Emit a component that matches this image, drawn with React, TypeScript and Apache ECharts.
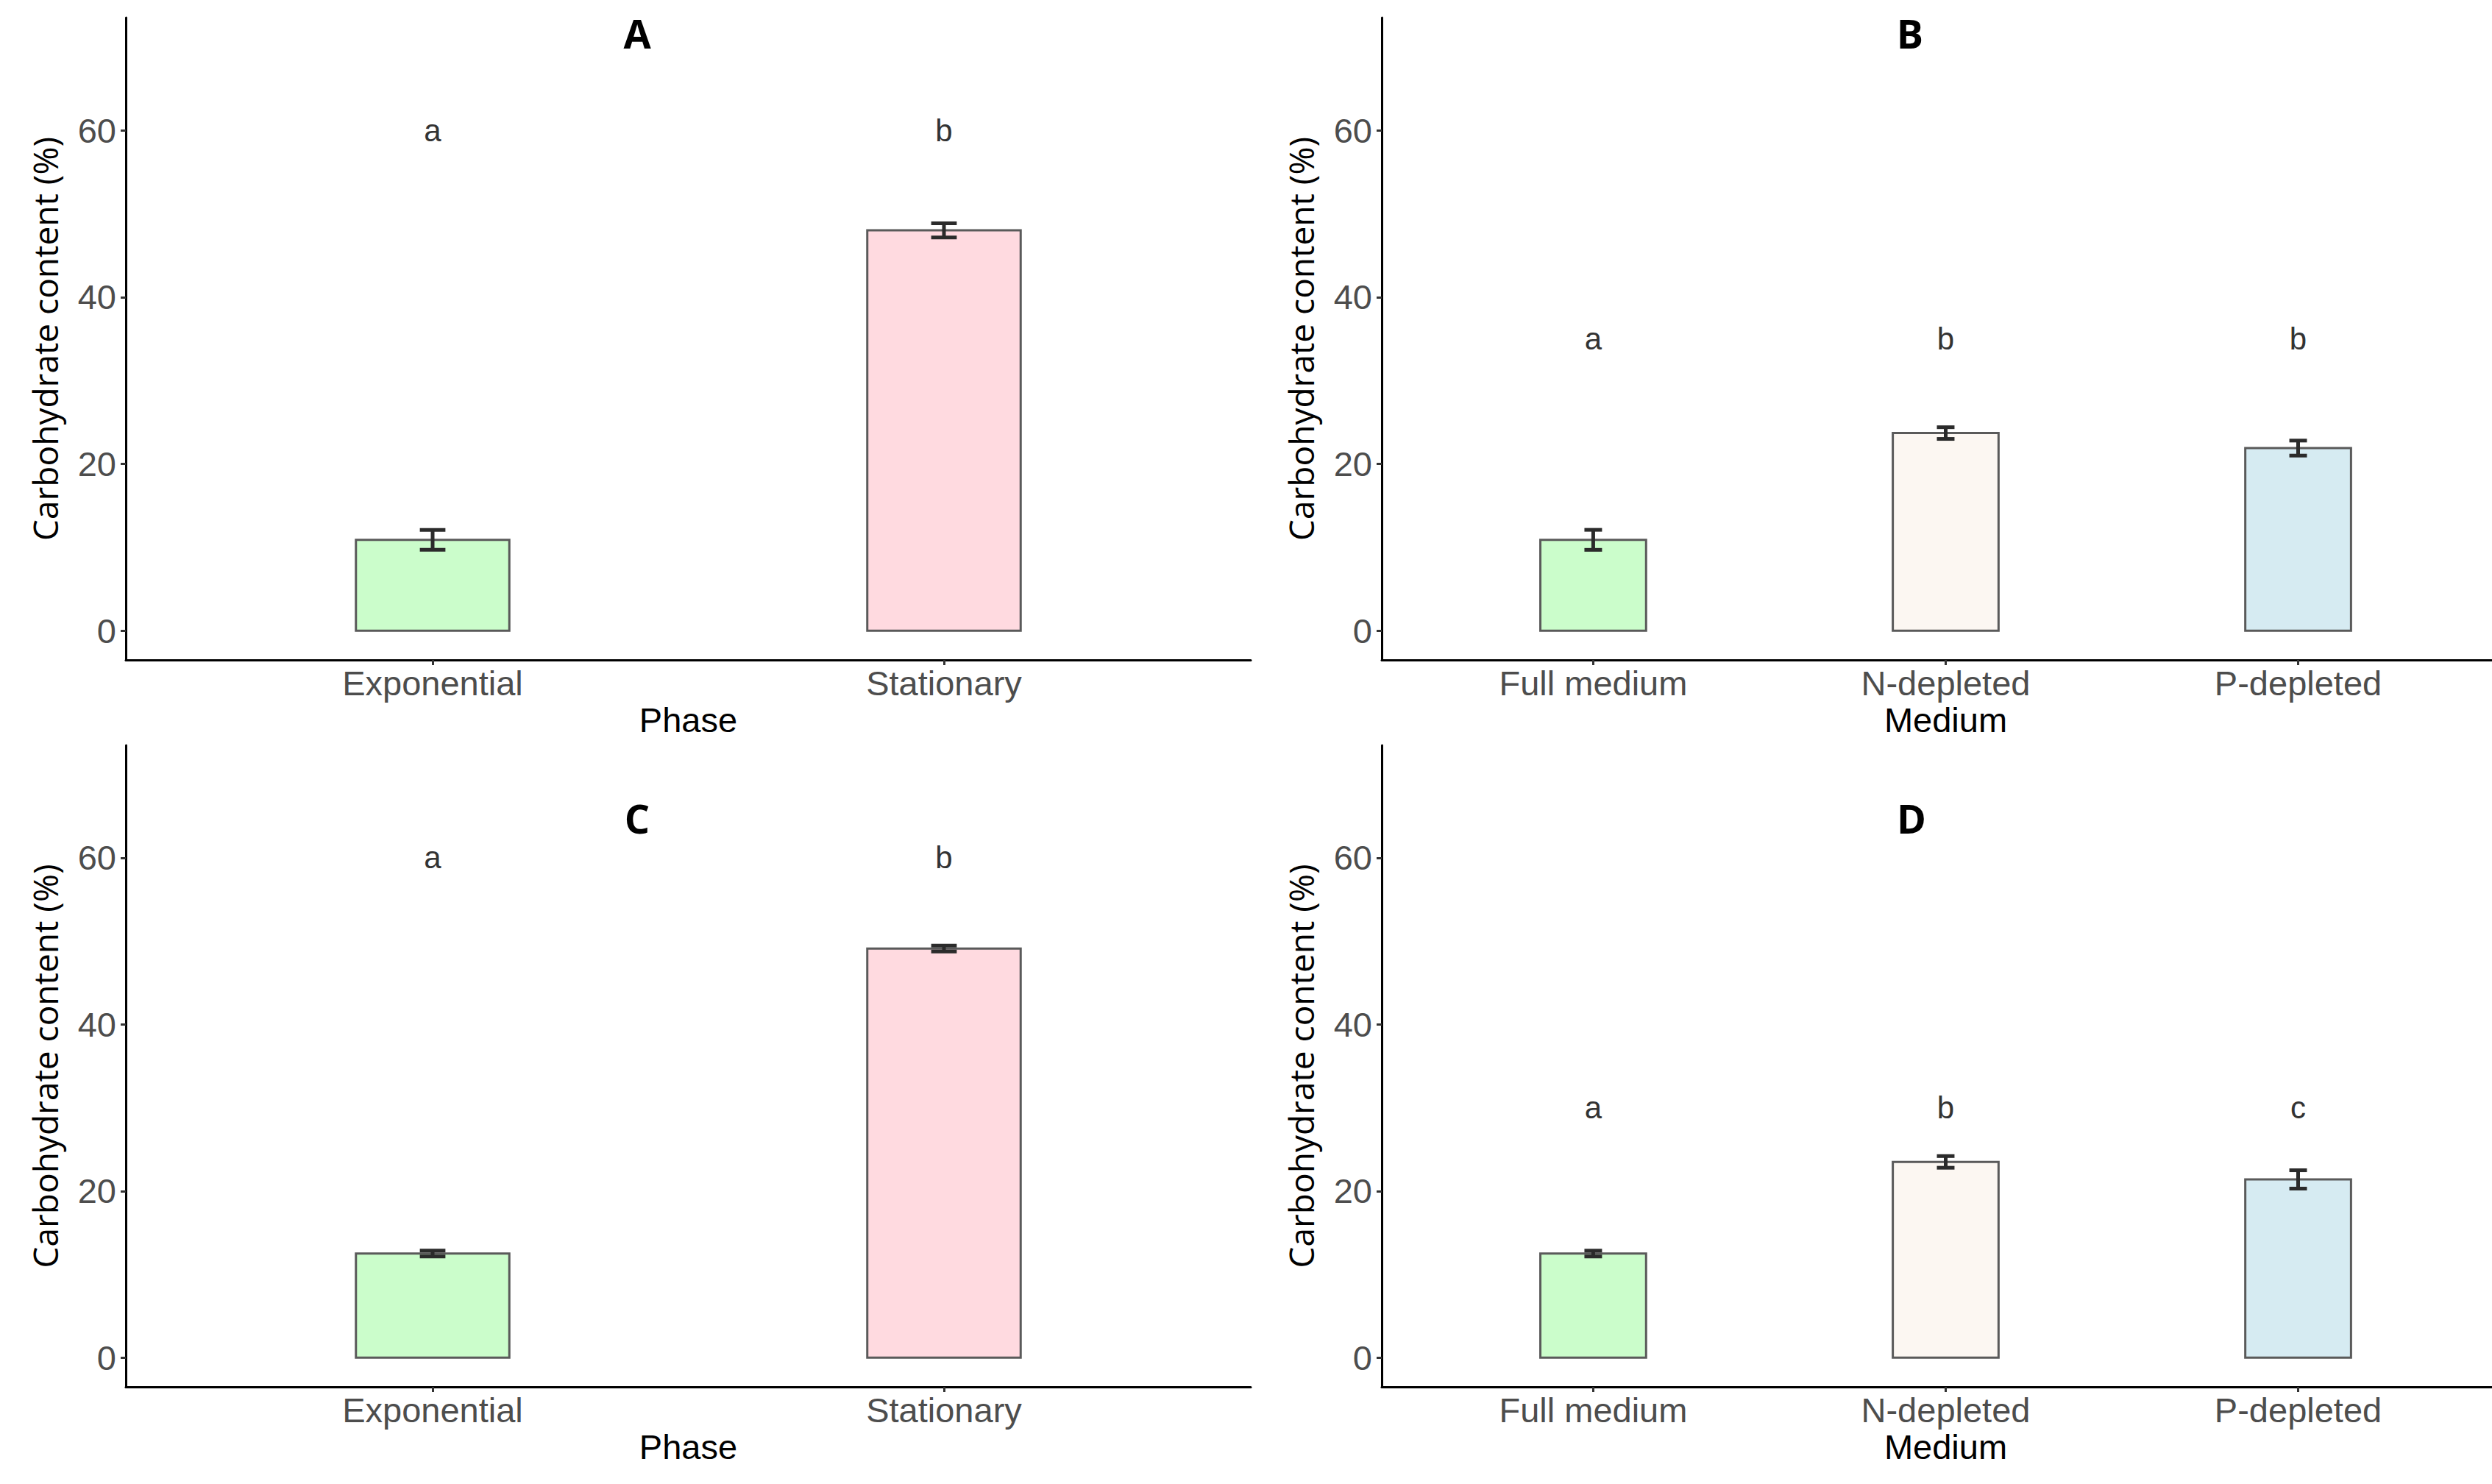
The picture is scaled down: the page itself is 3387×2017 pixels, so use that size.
import React, { useEffect, useRef } from "react";
import * as echarts from "echarts";

// ---- data ----
const phaseCats = ["Exponential", "Stationary"];
const mediumCats = ["Full medium", "N-depleted", "P-depleted"];

const aMeans = [10.9, 48.0];
const aErrs = [1.2, 0.85];
const aLetters = ["a", "b"];
const aLetterY = 60;

const bMeans = [10.9, 23.7, 21.9];
const bErrs = [1.2, 0.7, 0.9];
const bLetters = ["a", "b", "b"];
const bLetterY = 35;

const cMeans = [12.5, 49.1];
const cErrs = [0.35, 0.35];
const cLetters = ["a", "b"];
const cLetterY = 60;

const dMeans = [12.5, 23.5, 21.4];
const dErrs = [0.35, 0.7, 1.1];
const dLetters = ["a", "b", "c"];
const dLetterY = 30;

const yTicks = [0, 20, 40, 60];
const panelTitles = ["A", "B", "C", "D"];

// ---- styles ----
const phaseColors = ["rgba(152,251,152,0.5)", "rgba(255,182,193,0.5)"];
const mediumColors = ["rgba(152,251,152,0.5)", "rgba(250,240,230,0.5)", "rgba(173,216,230,0.5)"];

const TICK_FONT = '"Liberation Sans", Arial, sans-serif';
const YTITLE_FONT = '"Open Sans", "Noto Sans", sans-serif';

export default function App() {
  const ref = useRef<HTMLDivElement>(null);

  useEffect(() => {
    if (!ref.current) return;
    const chart = echarts.init(ref.current, undefined, { renderer: "svg" });

    const panels = [
      { cats: phaseCats, means: aMeans, errs: aErrs, letters: aLetters, ly: aLetterY, colors: phaseColors, xname: "Phase", xmax: 2.6, namePad: 0 },
      { cats: mediumCats, means: bMeans, errs: bErrs, letters: bLetters, ly: bLetterY, colors: mediumColors, xname: "Medium", xmax: 3.55, namePad: 24 },
      { cats: phaseCats, means: cMeans, errs: cErrs, letters: cLetters, ly: cLetterY, colors: phaseColors, xname: "Phase", xmax: 2.6, namePad: 0 },
      { cats: mediumCats, means: dMeans, errs: dErrs, letters: dLetters, ly: dLetterY, colors: mediumColors, xname: "Medium", xmax: 3.55, namePad: 24 },
    ];

    const grids = [
      { left: 171, top: 24, width: 1529, height: 873 },
      { left: 1878, top: 24, width: 1509, height: 873 },
      { left: 171, top: 1013, width: 1529, height: 872 },
      { left: 1878, top: 1013, width: 1509, height: 872 },
    ];

    const titlePos = [
      [866, 45],
      [2596, 45],
      [866, 1112],
      [2598, 1112],
    ];

    const xAxes = panels.map((p, i) => ({
      type: "value",
      gridIndex: i,
      min: 0.4,
      max: p.xmax,
      name: p.xname,
      nameLocation: "middle",
      nameGap: 58,
      nameTextStyle: { fontFamily: TICK_FONT, fontSize: 47, color: "#000", padding: [0, 0, 0, p.namePad] },
      axisLine: { show: true, onZero: false, lineStyle: { color: "#000", width: 3 } },
      axisTick: {
        show: true,
        length: 7,
        lineStyle: { color: "#333", width: 3 },
        customValues: p.cats.map((_, k) => k + 1),
      },
      axisLabel: {
        show: true,
        margin: 8,
        fontFamily: TICK_FONT,
        fontSize: 47,
        color: "#4d4d4d",
        customValues: p.cats.map((_, k) => k + 1),
        formatter: (v: number) => p.cats[Math.round(v) - 1] ?? "",
      },
      splitLine: { show: false },
    }));

    const yAxes = panels.map((p, i) => ({
      type: "value",
      gridIndex: i,
      min: -3.5,
      max: 73.5,
      name: "Carbohydrate content (%)",
      nameLocation: "middle",
      nameGap: 87,
      nameTextStyle: { fontFamily: YTITLE_FONT, fontSize: 46, color: "#000" },
      axisLine: { show: true, onZero: false, lineStyle: { color: "#000", width: 3 } },
      axisTick: {
        show: true,
        length: 7,
        lineStyle: { color: "#333", width: 3 },
        customValues: yTicks,
      },
      axisLabel: {
        show: true,
        margin: 13,
        fontFamily: TICK_FONT,
        fontSize: 47,
        color: "#4d4d4d",
        customValues: yTicks,
      },
      splitLine: { show: false },
    }));

    const series = panels.map((p, i) => ({
      type: "custom",
      xAxisIndex: i,
      yAxisIndex: i,
      clip: false,
      encode: { x: 0, y: 1 },
      data: p.means.map((m, k) => [k + 1, m, p.errs[k]]),
      renderItem: (params: any, api: any) => {
        const idx = params.dataIndex;
        const x = api.value(0);
        const v = api.value(1);
        const e = api.value(2);
        const tl = api.coord([x - 0.15, v]);
        const br = api.coord([x + 0.15, 0]);
        const top = api.coord([x, v + e]);
        const bot = api.coord([x, v - e]);
        const capL = api.coord([x - 0.025, v])[0];
        const capR = api.coord([x + 0.025, v])[0];
        const lp = api.coord([x, p.ly]);
        return {
          type: "group",
          children: [
            {
              type: "rect",
              shape: { x: tl[0], y: tl[1], width: br[0] - tl[0], height: br[1] - tl[1] },
              style: { fill: p.colors[idx], stroke: "#5a5a5a", lineWidth: 3 },
            },
            {
              type: "line",
              shape: { x1: top[0], y1: top[1], x2: bot[0], y2: bot[1] },
              style: { stroke: "#2b2b2b", lineWidth: 5 },
            },
            {
              type: "line",
              shape: { x1: capL, y1: top[1], x2: capR, y2: top[1] },
              style: { stroke: "#2b2b2b", lineWidth: 5 },
            },
            {
              type: "line",
              shape: { x1: capL, y1: bot[1], x2: capR, y2: bot[1] },
              style: { stroke: "#2b2b2b", lineWidth: 5 },
            },
            {
              type: "text",
              x: lp[0],
              y: lp[1],
              style: {
                text: p.letters[idx],
                fill: "#333",
                fontFamily: TICK_FONT,
                fontSize: 42,
                align: "center",
                verticalAlign: "middle",
              },
            },
          ],
        };
      },
    }));

    const graphic = panelTitles.map((t, i) => ({
      type: "text",
      x: titlePos[i][0],
      y: titlePos[i][1],
      style: {
        text: t,
        fill: "#000",
        fontFamily: YTITLE_FONT,
        fontWeight: "bold",
        fontSize: 54,
        align: "center",
        verticalAlign: "middle",
      },
    }));

    chart.setOption({
      animation: false,
      backgroundColor: "#fff",
      grid: grids,
      xAxis: xAxes,
      yAxis: yAxes,
      series,
      graphic,
    } as any);

    return () => chart.dispose();
  }, []);

  return (
    <div
      ref={ref}
      style={{ position: "absolute", left: 0, top: 0, width: 3387, height: 2017 }}
    />
  );
}
